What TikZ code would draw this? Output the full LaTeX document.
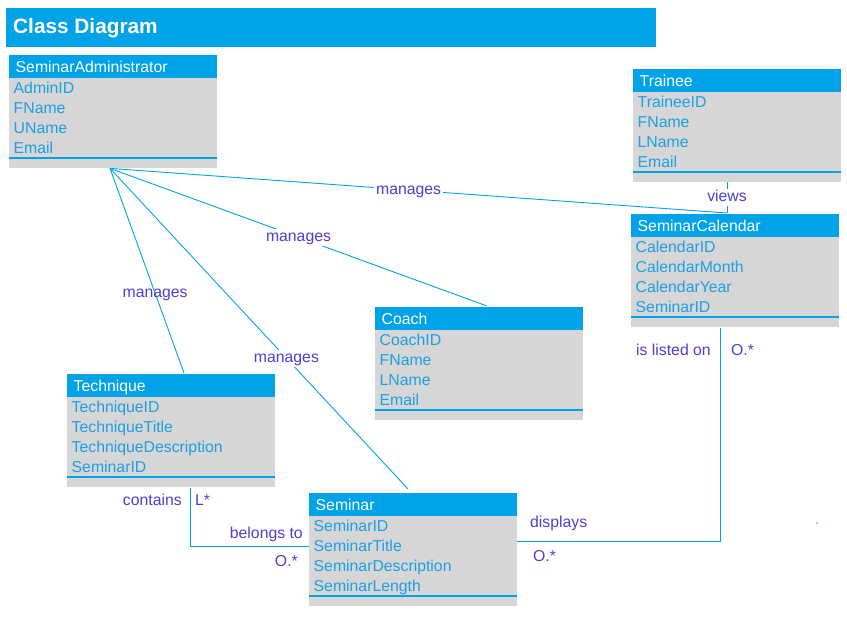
\documentclass[tikz,border=0pt]{standalone}
\usepackage{fontspec}
\setmainfont{Liberation Sans}
\usepackage{tikz}
\usetikzlibrary{calc}

\definecolor{kopfblau}{RGB}{0,163,232}
\definecolor{feldgrau}{RGB}{214,214,214}
\definecolor{attrblau}{RGB}{28,160,226}
\definecolor{textlila}{RGB}{78,62,210}

\begin{document}
\begin{tikzpicture}[x=1pt, y=-1pt]
	\tikzstyle{every node}=[font=\fontsize{15.8}{18}\selectfont]
	\tikzstyle{klasse}=[fill=feldgrau, minimum width=208, minimum height=112.5, inner sep=0, anchor=north west]
	\tikzstyle{linie}=[draw=kopfblau, line width=0.9]
	\tikzstyle{rolle}=[text=textlila, text height=11, text depth=2, inner sep=2]
	\useasboundingbox (0,0) rectangle (847,619);

	%Titelleiste
	\fill[kopfblau] (6,8) rectangle (656,46.5);
	\node[anchor=base west, inner sep=0, text=white, font=\bfseries\fontsize{20.8}{24}\selectfont] (titel) at (13,33.5) {Class Diagram};

	%Klassen: Kopf, Attribute, Trennlinie
	\foreach \n/\x/\y/\kopf/\attrs in {
		admin/9/55/SeminarAdministrator/{AdminID,FName,UName,Email},
		trainee/633/69/Trainee/{TraineeID,FName,LName,Email},
		cal/631/214/SeminarCalendar/{CalendarID,CalendarMonth,CalendarYear,SeminarID},
		coach/375/307/Coach/{CoachID,FName,LName,Email},
		tech/67/374/Technique/{TechniqueID,TechniqueTitle,TechniqueDescription,SeminarID},
		sem/309/493/Seminar/{SeminarID,SeminarTitle,SeminarDescription,SeminarLength}}{
		\node[klasse] (\n) at (\x,\y) {};
		\fill[kopfblau] (\n.north west) rectangle ++(208,22.7);
		\draw[kopfblau, line width=1.3] ($(\n.north west)+(0,103)$) -- ++(208,0);
		\node[anchor=base west, inner sep=0, text=white] (\n-k) at ($(\n.north west)+(6.5,17)$) {\kopf};
		\foreach \a [count=\i] in \attrs
			\node[anchor=base west, inner sep=0, text=attrblau] (\n-\i) at ($(\n.north west)+(4.5,18.5+20*\i)$) {\a};
	}

	%manages
	\coordinate (fuss) at ($(admin.south west)+(101,0.5)$);
	\draw[linie] (fuss) -- ($(cal.north west)+(96,-1)$) node[rolle, pos=0.484, fill=white] (m1) {manages};
	\draw[linie] (fuss) -- ($(coach.north west)+(112,-1)$) node[rolle, pos=0.5, fill=white] (m2) {manages};
	\draw[linie] (fuss) -- ($(tech.north west)+(117,-1)$) node[rolle, pos=0.61] (m3) {manages};
	\draw[linie] (fuss) -- ($(sem.north west)+(99,-4)$) node[rolle, pos=0.592, fill=white] (m4) {manages};

	%views
	\draw[linie] ($(trainee.south west)+(94,0)$) -- ($(cal.north west)+(96,-1)$) node[rolle, pos=0.5, fill=white] (v) {views};

	%Kalender - Seminar
	\draw[linie] ($(cal.south west)+(89,1.5)$) |- ($(sem.north east)+(0,48)$);
	\node[rolle, anchor=base east] (r1) at (713,355) {is listed on};
	\node[rolle, anchor=base west] (r2) at (729,355) {O.*};
	\node[rolle, anchor=base west] (r3) at (528,527.5) {displays};
	\node[rolle, anchor=base west] (r4) at (531,561) {O.*};

	%Technik - Seminar
	\draw[linie] ($(tech.south west)+(123.5,1.5)$) |- ($(sem.north west)+(0,53)$);
	\node[rolle, anchor=base east] (r5) at (184,505.7) {contains};
	\node[rolle, anchor=base west] (r6) at (193,505.7) {L*};
	\node[rolle, anchor=base east] (r7) at (305,538.4) {belongs to};
	\node[rolle, anchor=base east] (r8) at (300,566) {O.*};

	\draw[kopfblau, line width=0.6] (816,524) -- (818,522); %Punkt
\end{tikzpicture}
\end{document}
